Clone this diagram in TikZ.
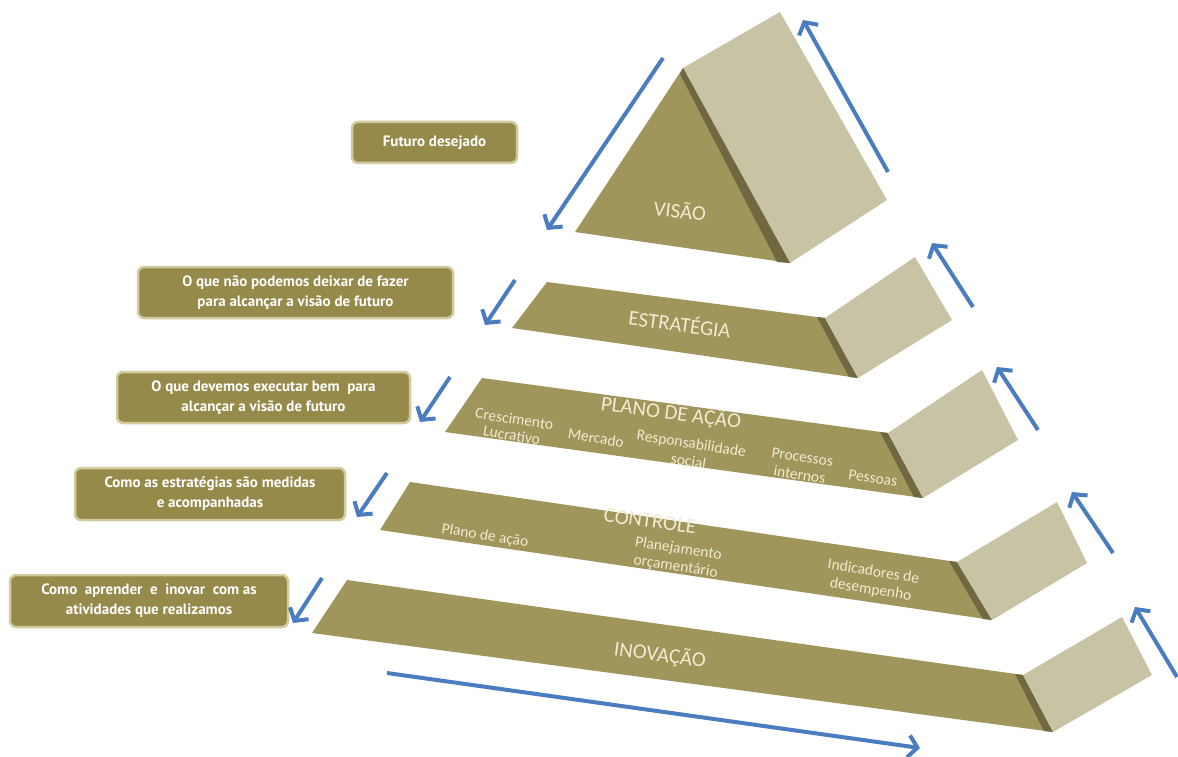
\documentclass[tikz,border=0pt]{standalone}
\usepackage{fontspec}
\setmainfont{Carlito}
\newfontfamily\notefont{PT Sans}
\usetikzlibrary{arrows.meta}

\definecolor{bandolive}{HTML}{A0955A}
\definecolor{bevelolive}{HTML}{6F6840}
\definecolor{facegray}{HTML}{C8C3A4}
\definecolor{labelcream}{HTML}{F0EBD2}
\definecolor{notefill}{HTML}{958A4A}
\definecolor{noteedge}{HTML}{D2CB9E}
\definecolor{flowblue}{HTML}{4A7DC0}

\tikzset{
  band/.style={fill=bandolive},
  bevel/.style={fill=bevelolive},
  face/.style={fill=facegray},
  title/.style={text=labelcream, font=\fontsize{21}{21}\selectfont, rotate=-7.5, inner sep=0pt},
  item/.style={text=labelcream, font=\fontsize{15.5}{18}\selectfont, align=center, rotate=-9, inner sep=0pt},
  note/.style={rounded corners=6pt, draw=noteedge, line width=2.5pt, fill=notefill,
    text=white, align=center, font=\notefont\bfseries\fontsize{15}{20}\selectfont},
  flow/.style={draw=flowblue, line width=4pt, -{Straight Barb[length=9pt,width=22pt]}}
}

\begin{document}
\begin{tikzpicture}[x=1pt, y=-1pt]
    % \draw[help lines, step=50] (0,0) grid (1178,757);
    \useasboundingbox (0,0) rectangle (1178,757);

    % top: vision
    \fill[face] (683,68) -- (780,12) -- (887,200) -- (790,263) -- cycle;
    \fill[band] (683,68) -- (790,263) -- (575,232) -- cycle;
    \fill[bevel] (683,68) -- (790,263) -- (777,262) -- (680,74) -- cycle;
    \node[title, rotate=1.5] (visao) at (680,210) {VISÃO};

    % strategy
    \fill[band] (547,282) -- (825,318) -- (858,378) -- (512,328) -- cycle;
    \fill[bevel] (817,317) -- (825,318) -- (858,378) -- (849,377) -- cycle;
    \fill[face] (825,318) -- (915,257) -- (952,320) -- (858,378) -- cycle;
    \node[title] (estrategia) at (680,323) {ESTRATÉGIA};

    % action plan
    \fill[band] (482,378) -- (888,433) -- (923,498) -- (445,432) -- cycle;
    \fill[bevel] (880,432) -- (888,433) -- (923,498) -- (914,497) -- cycle;
    \fill[face] (888,433) -- (982,370) -- (1018,440) -- (923,498) -- cycle;
    \node[title] (plano) at (671,413) {PLANO DE AÇÃO};
    \node[item, font=\fontsize{15.5}{16.5}\selectfont] (crescimento) at (513,427) {Crescimento\\Lucrativo};
    \node[item] (mercado) at (596,438) {Mercado};
    \node[item] (responsabilidade) at (690,452) {Responsabilidade\\social};
    \node[item] (processos) at (801,466) {Processos\\internos};
    \node[item] (pessoas) at (873,478) {Pessoas};

    % control
    \fill[band] (410,482) -- (957,562) -- (992,620) -- (380,530) -- cycle;
    \fill[bevel] (949,561) -- (957,562) -- (992,620) -- (983,619) -- cycle;
    \fill[face] (957,562) -- (1057,502) -- (1087,563) -- (992,620) -- cycle;
    \node[title] (controle) at (650,521) {CONTROLE};
    \node[item] (planoacao) at (485,536) {Plano de ação};
    \node[item] (planejamento) at (677,558) {Planejamento\\orçamentário};
    \node[item] (indicadores) at (872,581) {Indicadores de\\desempenho};

    % innovation
    \fill[band] (347,580) -- (1023,675) -- (1053,732) -- (312,633) -- cycle;
    \fill[bevel] (1015,674) -- (1023,675) -- (1053,732) -- (1044,731) -- cycle;
    \fill[face] (1023,675) -- (1122,617) -- (1152,675) -- (1053,732) -- cycle;
    \node[title] (inovacao) at (660,655) {INOVAÇÃO};

    % notes
    \node[note, minimum width=165, minimum height=41] (futuro) at (434.5,142.5) {Futuro desejado};
    \node[note, minimum width=315, minimum height=51] (naofazer) at (295.5,292.5) {O que não podemos deixar de fazer\\para alcançar a visão de futuro};
    \node[note, minimum width=293, minimum height=51] (executar) at (263.5,397.5) {O que devemos executar bem\ \ para\\alcançar a visão de futuro};
    \node[note, minimum width=270, minimum height=52] (medidas) at (210,494) {Como as estratégias são medidas\\e acompanhadas};
    \node[note, minimum width=278, minimum height=52] (aprender) at (149,601) {Como\ \ aprender\ \ e\ \ inovar\ \ com as\\atividades que realizamos};

    % arrow ends
    \coordinate (v1) at (663,58);   \coordinate (v2) at (547,230);
    \coordinate (v3) at (888,172);  \coordinate (v4) at (803,20);
    \coordinate (e1) at (515,280);  \coordinate (e2) at (485,325);
    \coordinate (e3) at (973,307);  \coordinate (e4) at (932,243);
    \coordinate (p1) at (450,377);  \coordinate (p2) at (420,422);
    \coordinate (p3) at (1038,430); \coordinate (p4) at (997,367);
    \coordinate (c1) at (387,473);  \coordinate (c2) at (357,517);
    \coordinate (c3) at (1113,553); \coordinate (c4) at (1072,492);
    \coordinate (i1) at (322,578);  \coordinate (i2) at (293,623);
    \coordinate (i3) at (1177,677); \coordinate (i4) at (1135,607);
    \coordinate (b1) at (387,673);  \coordinate (b2) at (920,748);

    \draw[flow] (v1) -- (v2);
    \draw[flow] (v3) -- (v4);
    \draw[flow] (e1) -- (e2);
    \draw[flow] (e3) -- (e4);
    \draw[flow] (p1) -- (p2);
    \draw[flow] (p3) -- (p4);
    \draw[flow] (c1) -- (c2);
    \draw[flow] (c3) -- (c4);
    \draw[flow] (i1) -- (i2);
    \draw[flow] (i3) -- (i4);
    \draw[flow] (b1) -- (b2);

\end{tikzpicture}
\end{document}
